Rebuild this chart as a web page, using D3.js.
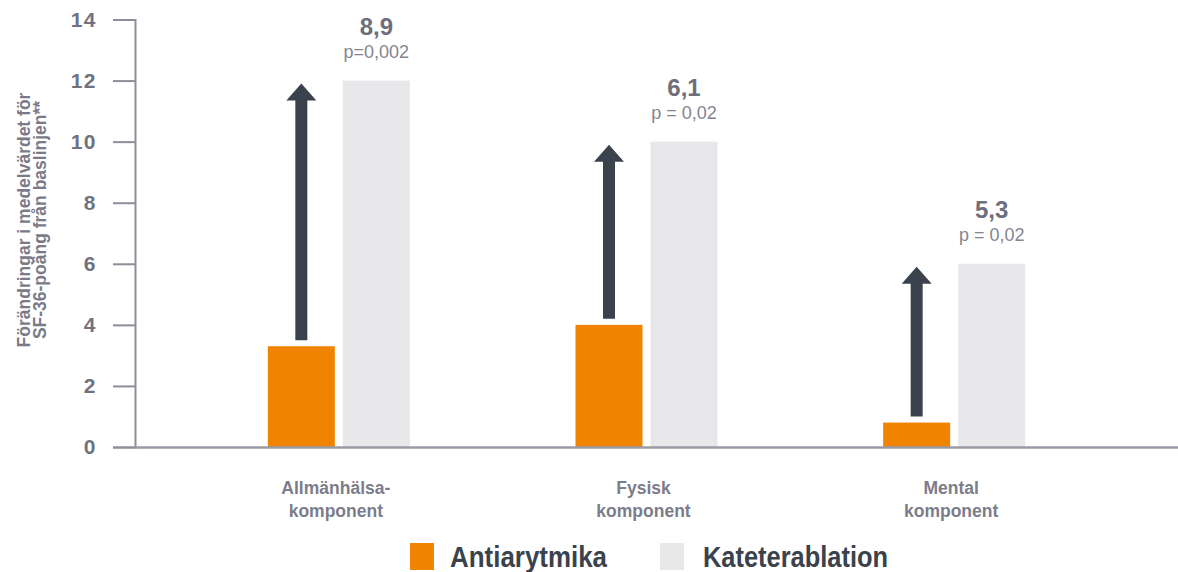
<!DOCTYPE html>
<html>
<head>
<meta charset="utf-8">
<script src="https://cdn.jsdelivr.net/npm/d3@7/dist/d3.min.js"></script>
<style>
  html, body { margin: 0; padding: 0; background: #ffffff; }
  svg { display: block; font-family: "Liberation Sans", Arial, sans-serif; }
</style>
</head>
<body>
<svg id="chart" width="1178" height="572"></svg>
<script>
// SF-36 components
const categories = [["Allmänhälsa-", "komponent"], ["Fysisk", "komponent"], ["Mental", "komponent"]];
const seriesNames = ["Antiarytmika", "Kateterablation"];
const antiarytmika = [3.3, 4.0, 0.8];
const kateterablation = [12.0, 10.0, 6.0];
const differenceLabels = ["8,9", "6,1", "5,3"];
const pValueLabels = ["p=0,002", "p = 0,02", "p = 0,02"];
const yTicks = [0, 2, 4, 6, 8, 10, 12, 14];
const yTitle = ["Förändringar i medelvärdet för", "SF-36-poäng från baslinjen**"];

const colors = { Antiarytmika: "#f08400", Kateterablation: "#e8e7ea" };
const arrowColor = "#3a434d";
const axisColor = "#8e8e9a";
const labelGrey = "#72727f";

const svg = d3.select("#chart");
const W = 1178;

const y = d3.scaleLinear().domain([0, 14]).range([447, 19.5]);
const catKeys = categories.map(c => c.join(" "));
const x = d3.scaleBand().domain(catKeys).range([185, 1108]).padding(0);
const xInner = d3.scaleBand().domain(seriesNames).range([-71, 71])
  .paddingInner(8 / 75).paddingOuter(0);

// y axis
const yAxis = d3.axisLeft(y).tickValues(yTicks).tickSize(22).tickPadding(16)
  .tickFormat(d3.format("d"));
const gy = svg.append("g").attr("transform", "translate(135,0)").call(yAxis);
gy.select(".domain").attr("stroke", axisColor).attr("stroke-width", 2);
gy.selectAll(".tick line").attr("stroke", axisColor).attr("stroke-width", 2);
gy.selectAll(".tick text")
  .attr("fill", labelGrey)
  .attr("font-size", 21)
  .attr("font-weight", "bold")
  .attr("letter-spacing", 1.5)
  .attr("font-family", "'Liberation Sans', Arial, sans-serif");

// y axis title
const yt = svg.append("text")
  .attr("transform", "translate(30,220) rotate(-90)")
  .attr("text-anchor", "middle")
  .attr("fill", "#7a7a88")
  .attr("font-size", 17.5)
  .attr("font-weight", "bold");
yt.selectAll("tspan").data(yTitle).join("tspan")
  .attr("x", 0)
  .attr("dy", (d, i) => i === 0 ? 0 : 15.5)
  .text(d => d);

// groups
const rows = catKeys.map((k, i) => ({
  key: k, lines: categories[i],
  values: [antiarytmika[i], kateterablation[i]],
  diff: differenceLabels[i], p: pValueLabels[i]
}));

const g = svg.append("g");
const groups = g.selectAll("g.group").data(rows).join("g")
  .attr("class", "group")
  .attr("transform", d => `translate(${x(d.key) + x.bandwidth() / 2},0)`);

groups.selectAll("rect").data(d => seriesNames.map((s, j) => ({ s, v: d.values[j] })))
  .join("rect")
  .attr("x", d => xInner(d.s))
  .attr("width", xInner.bandwidth())
  .attr("y", d => y(d.v))
  .attr("height", d => y(0) - y(d.v))
  .attr("fill", d => colors[d.s]);

// baseline
svg.append("line")
  .attr("x1", 135).attr("x2", W)
  .attr("y1", y(0) + 0.5).attr("y2", y(0) + 0.5)
  .attr("stroke", "#9a9aa6").attr("stroke-width", 2.5);

// arrows from the antiarytmika level up to the kateterablation level
const shaftW = 12, headW = 30, headH = 17;
groups.append("path")
  .attr("fill", arrowColor)
  .attr("d", d => {
    const cx = xInner(seriesNames[0]) + xInner.bandwidth() / 2;
    const yb = y(d.values[0]) - 6;
    const yt2 = y(d.values[1]) + 3;
    const p = d3.path();
    p.moveTo(cx - shaftW / 2, yb);
    p.lineTo(cx - shaftW / 2, yt2 + headH);
    p.lineTo(cx - headW / 2, yt2 + headH);
    p.lineTo(cx, yt2);
    p.lineTo(cx + headW / 2, yt2 + headH);
    p.lineTo(cx + shaftW / 2, yt2 + headH);
    p.lineTo(cx + shaftW / 2, yb);
    p.closePath();
    return p.toString();
  });

// difference labels over the kateterablation bars
const lx = xInner(seriesNames[1]) + xInner.bandwidth() / 2;
groups.append("text")
  .attr("x", lx)
  .attr("y", d => y(d.values[1]) - 46)
  .attr("text-anchor", "middle")
  .attr("fill", "#6e6e7d")
  .attr("font-size", 24)
  .attr("font-weight", "bold")
  .text(d => d.diff);
groups.append("text")
  .attr("x", lx)
  .attr("y", d => y(d.values[1]) - 23)
  .attr("text-anchor", "middle")
  .attr("fill", "#85858f")
  .attr("font-size", 18)
  .text(d => d.p);

// category labels
groups.append("text")
  .attr("text-anchor", "middle")
  .attr("fill", "#7c7c8a")
  .attr("font-size", 17.5)
  .attr("font-weight", "bold")
  .selectAll("tspan").data(d => d.lines).join("tspan")
  .attr("x", -3)
  .attr("y", (d, i) => 494 + i * 23)
  .text(d => d);

// legend
const legendPos = [410, 660];
const legendTextW = [157, 185];
const lg = svg.append("g").selectAll("g").data(seriesNames).join("g")
  .attr("transform", (d, i) => `translate(${legendPos[i]},0)`);
lg.append("rect")
  .attr("x", 0).attr("y", 543).attr("width", 24).attr("height", 27)
  .attr("fill", d => colors[d]);
lg.append("text")
  .attr("x", (d, i) => i === 0 ? 40 : 43).attr("y", 567)
  .attr("fill", "#3a424b")
  .attr("font-size", 29)
  .attr("font-weight", "bold")
  .attr("textLength", (d, i) => legendTextW[i])
  .attr("lengthAdjust", "spacingAndGlyphs")
  .text(d => d);
</script>
</body>
</html>
